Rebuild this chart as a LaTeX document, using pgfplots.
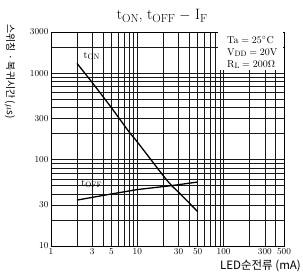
\documentclass[border=0pt]{standalone}
\usepackage{fontspec}
\usepackage{graphicx}
\usepackage{pgfplots}
\pgfplotsset{compat=1.18}
\newfontfamily\kr{Noto Sans CJK KR}
\newcommand\sub[1]{\raisebox{-0.4ex}{\scalebox{0.78}{#1}}}
\begin{document}
\begin{tikzpicture}
\begin{loglogaxis}[
  name=ax, scale only axis, width=233pt, height=214pt,
  xmin=1, xmax=500, ymin=10, ymax=3000,
  xtick={1,2,3,4,5,6,7,8,9,10,20,30,40,50,60,70,80,90,100,200,300,400,500},
  xticklabels={1,,3,,5,,,,,10,,30,,50,,,,,100,,300,,500},
  ytick={10,20,30,40,50,60,70,80,90,100,200,300,400,500,600,700,800,900,1000,2000,3000},
  yticklabels={10,,30,,,,,,,100,,300,,,,,,,1000,,3000},
  grid=major, major grid style={black!90, line width=0.4pt},
  tick style={draw=none},
  axis line style={line width=0.8pt},
  tick label style={font=\fontsize{9}{9}\selectfont},
  xticklabel style={yshift=1pt},
  yticklabel style={xshift=1pt},
  clip=false,
]
\fill[white] (axis cs:85,1100) rectangle ([xshift=-0.5pt,yshift=-0.5pt]rel axis cs:1,1);
\addplot[black, line width=1.3pt, smooth] coordinates {
  (2,1300) (3,780) (5,400) (8,210) (10,160) (20,65) (25,50) (30,42) (50,25)};
\addplot[black, line width=1.3pt] coordinates {
  (2,34) (5,40) (10,45) (25,50) (50,55)};
\node[font=\fontsize{10}{10}\selectfont] at (axis cs:2.95,1580) {t\sub{ON}};
\node[font=\fontsize{10}{10}\selectfont] at (axis cs:2.95,52) {t\sub{OFF}};
\node[anchor=north west, align=left, inner sep=0pt, font=\fontsize{10}{12}\selectfont]
  at ([xshift=-57pt,yshift=-4pt]rel axis cs:1,1)
  {Ta${}={}$25$^\circ$C\\V\sub{DD}${}={}$20V\\R\sub{L}${}={}$200$\Omega$};
\node[font=\fontsize{15}{16}\selectfont] at ([xshift=111pt,yshift=16pt]rel axis cs:0,1)
  {t\sub{ON}, t\sub{OFF} $-$ I\sub{F}};
\node[rotate=-90, anchor=west, inner sep=0pt, font=\kr\fontsize{10}{10}\selectfont]
  at ([xshift=-41pt,yshift=8pt]rel axis cs:0,1) {스위칭 · 복귀시간 ($\mu$s)};
\node[anchor=east, inner sep=0pt, font=\kr\fontsize{11.5}{12}\selectfont]
  at ([xshift=17pt,yshift=-20pt]rel axis cs:1,0) {LED순전류 (mA)};
\end{loglogaxis}
\pgfresetboundingbox
\path ([shift={(-51pt,-28pt)}]ax.south west) rectangle ([shift={(19pt,32pt)}]ax.north east);
\end{tikzpicture}
\end{document}
